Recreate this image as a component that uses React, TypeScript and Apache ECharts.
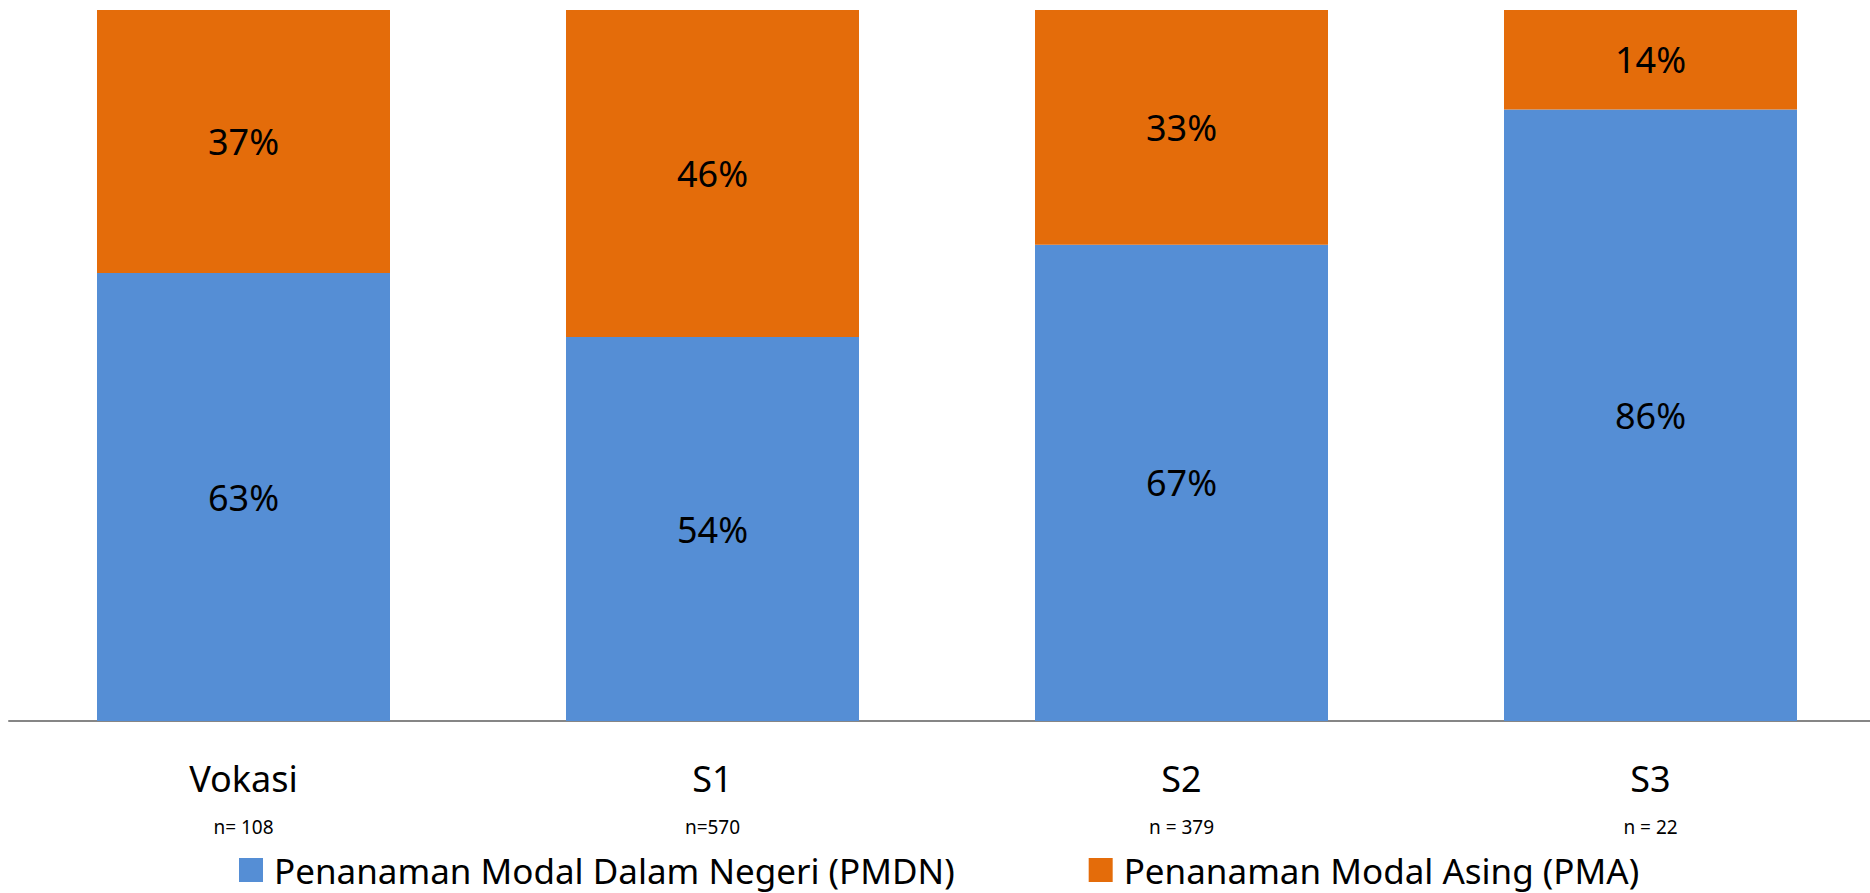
import React, { useEffect, useRef } from "react";
import * as echarts from "echarts";

const categories = ["Vokasi", "S1", "S2", "S3"];
const sampleSizes = ["n= 108", "n=570", "n = 379", "n = 22"];
const pmdn = [63, 54, 67, 86];
const pma = [37, 46, 33, 14];
const seriesNames = ["Penanaman Modal Dalam Negeri (PMDN)", "Penanaman Modal Asing (PMA)"];

const FONT = "'Noto Sans', 'Open Sans', sans-serif";

export default function App() {
  const ref = useRef<HTMLDivElement>(null);
  useEffect(() => {
    if (!ref.current) return;
    const chart = echarts.init(ref.current, null, { renderer: "svg" });
    const label = {
      show: true,
      position: "inside",
      formatter: "{c}%",
      color: "#000",
      fontSize: 36,
      fontFamily: FONT,
    };
    chart.setOption({
      animation: false,
      backgroundColor: "#fff",
      grid: {
        left: 9,
        width: 1876,
        top: 10,
        bottom: 172,
        containLabel: false,
        outerBoundsMode: "none",
      },
      legend: {
        left: 234,
        top: 845,
        itemWidth: 24,
        itemHeight: 24,
        itemGap: 134,
        icon: "rect",
        textStyle: { fontSize: 35, fontFamily: FONT, color: "#000", padding: [0, 0, 0, 6], lineHeight: 40 },
        data: seriesNames,
      },
      xAxis: {
        type: "category",
        data: categories,
        axisLine: { lineStyle: { color: "#868686", width: 2 } },
        axisTick: { show: false },
        axisLabel: {
          margin: 24,
          formatter: (v: string, i: number) => `{a|${v}}\n{b|${sampleSizes[i]}}`,
          rich: {
            a: { fontSize: 36, fontFamily: FONT, color: "#000", lineHeight: 66 },
            b: { fontSize: 19, fontFamily: FONT, color: "#000", lineHeight: 32 },
          },
        },
      },
      yAxis: { type: "value", min: 0, max: 100, show: false, splitLine: { show: false } },
      series: [
        {
          name: seriesNames[0],
          type: "bar",
          stack: "total",
          data: pmdn,
          barWidth: 293,
          itemStyle: { color: "#558ED5" },
          label,
        },
        {
          name: seriesNames[1],
          type: "bar",
          stack: "total",
          data: pma,
          barWidth: 293,
          itemStyle: { color: "#E46C0A" },
          label,
        },
      ],
    });
    return () => chart.dispose();
  }, []);
  return (
    <div
      ref={ref}
      style={{ position: "fixed", left: 0, top: 0, width: 1870, height: 893 }}
    />
  );
}
